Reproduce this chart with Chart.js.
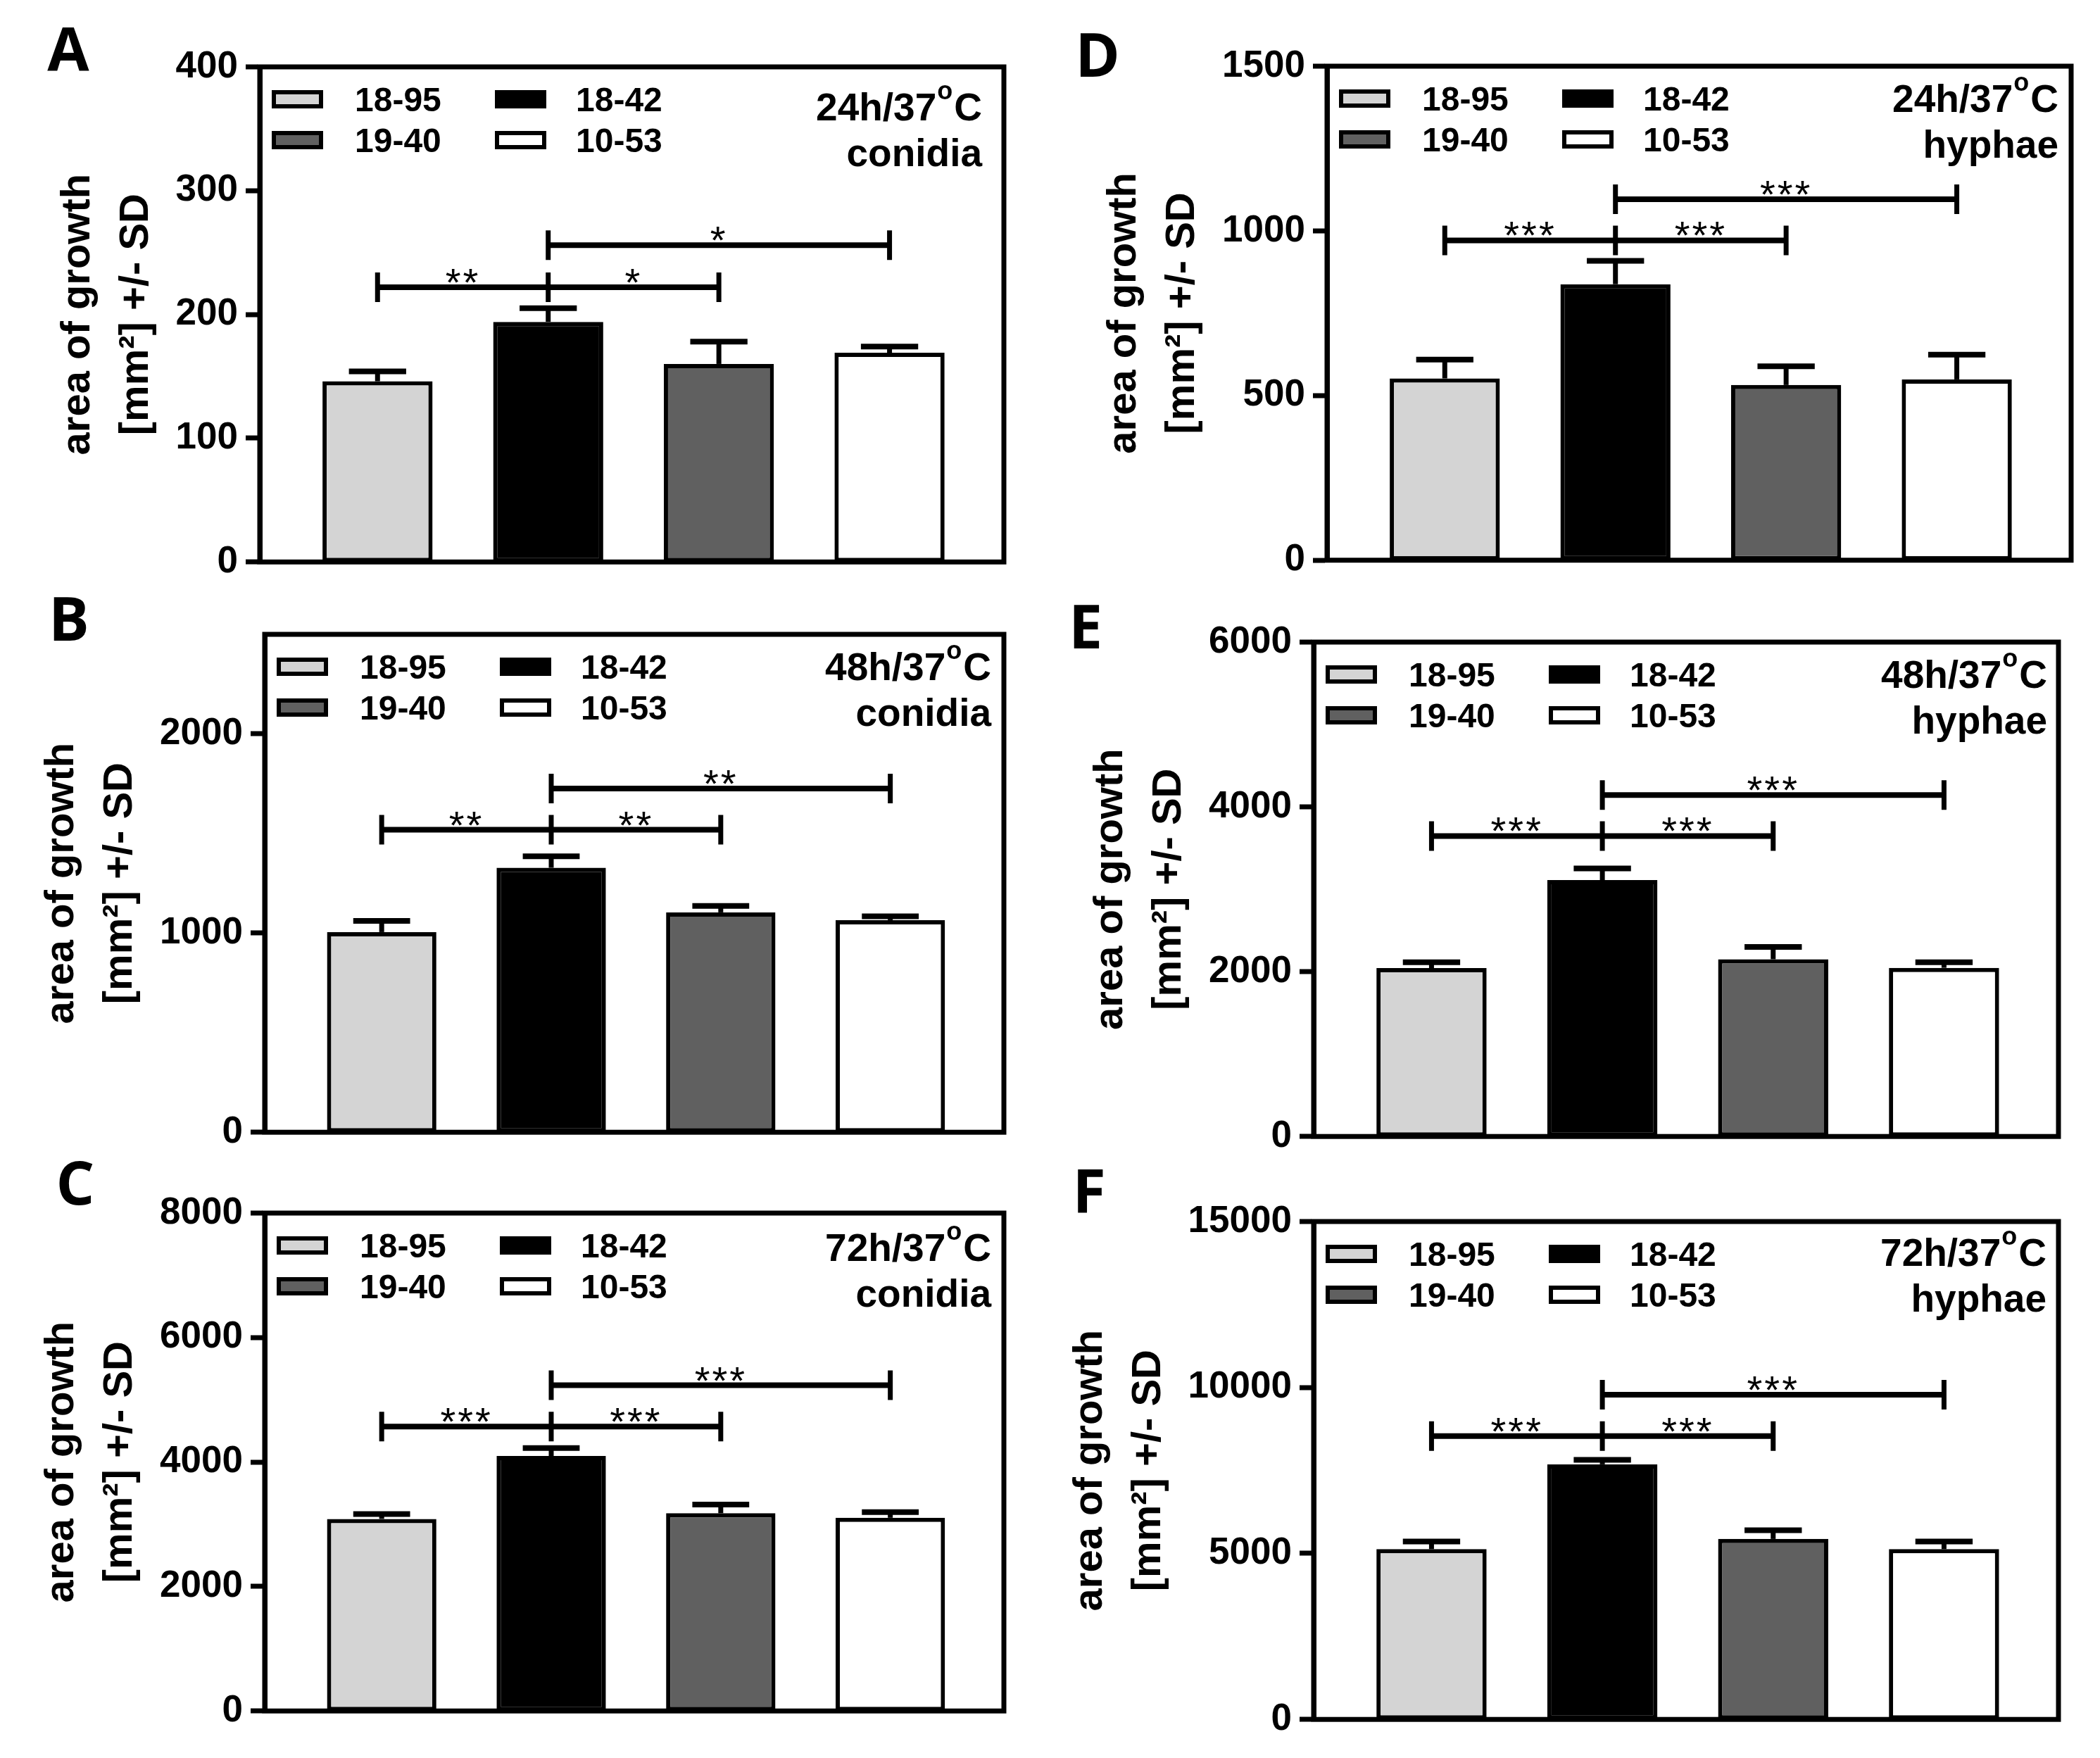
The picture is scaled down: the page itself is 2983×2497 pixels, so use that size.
<!DOCTYPE html>
<html><head><meta charset="utf-8">
<script src="https://cdn.jsdelivr.net/npm/chart.js@4.4.1/dist/chart.umd.min.js"></script>
<style>
html,body{margin:0;padding:0;background:#fff;}
body{width:2983px;height:2497px;position:relative;overflow:hidden;}
.panel{position:absolute;}
</style></head><body>
<script>
// ---------------- DATA ----------------
const categories = ['18-95', '18-42', '19-40', '10-53'];

const meansA = [146, 194, 160, 169];
const sdA    = [8, 11, 18, 5];
const ticksA = [0, 100, 200, 300, 400];
const yMaxA  = 400;
const bracketsA = [222, 256];
const starsA = ['**', '*', '*'];
const noteA  = ['24h/37', 'conidia'];

const meansB = [1005, 1328, 1104, 1065];
const sdB    = [56, 58, 32, 19];
const ticksB = [0, 1000, 2000];
const yMaxB  = 2500;
const bracketsB = [1519, 1726];
const starsB = ['**', '**', '**'];
const noteB  = ['48h/37', 'conidia'];

const meansC = [3086, 4097, 3177, 3104];
const sdC    = [79, 127, 139, 91];
const ticksC = [0, 2000, 4000, 6000, 8000];
const yMaxC  = 8000;
const bracketsC = [4569, 5234];
const starsC = ['***', '***', '***'];
const noteC  = ['72h/37', 'conidia'];

const meansD = [552, 838, 532, 549];
const sdD    = [57, 71, 57, 75];
const ticksD = [0, 500, 1000, 1500];
const yMaxD  = 1500;
const bracketsD = [971, 1096];
const starsD = ['***', '***', '***'];
const noteD  = ['24h/37', 'hyphae'];

const meansE = [2043, 3111, 2151, 2047];
const sdE    = [72, 141, 150, 68];
const ticksE = [0, 2000, 4000, 6000];
const yMaxE  = 6000;
const bracketsE = [3646, 4144];
const starsE = ['***', '***', '***'];
const noteE  = ['48h/37', 'hyphae'];

const meansF = [5130, 7685, 5437, 5130];
const sdF    = [228, 135, 261, 228];
const ticksF = [0, 5000, 10000, 15000];
const yMaxF  = 15000;
const bracketsF = [8536, 9784];
const starsF = ['***', '***', '***'];
const noteF  = ['72h/37', 'hyphae'];

const yTitle = ['area of growth', '[mm\u00B2] +/- SD'];

// ---------------- STYLE / LAYOUT ----------------
const barColors = ['#d4d4d4', '#000000', '#606060', '#ffffff'];
const FONT = "'Liberation Sans', Arial, Helvetica, sans-serif";
const LETTER_FONT = "'Open Sans', 'Liberation Sans', Arial, sans-serif";

const layoutPanels = {
  A: {left: 369, top: 94.5, right: 1426, bottom: 800.5, letter: [-272, 6],  note: [-31, 76]},
  B: {left: 376, top: 901,  right: 1426, bottom: 1611,  letter: [-278, 9],  note: [-18, 65]},
  C: {left: 376, top: 1723, right: 1426, bottom: 2433,  letter: [-269, -12], note: [-18, 68]},
  D: {left: 1885, top: 93.5, right: 2942, bottom: 798,  letter: [-326, 15], note: [-18, 65]},
  E: {left: 1866, top: 912, right: 2924, bottom: 1617,  letter: [-324, 9],  note: [-16, 65]},
  F: {left: 1866, top: 1735, right: 2924, bottom: 2445, letter: [-319, -13], note: [-17, 63]}
};

const panelData = {
  A: {means: meansA, sd: sdA, ticks: ticksA, max: yMaxA, brackets: bracketsA, stars: starsA, note: noteA},
  B: {means: meansB, sd: sdB, ticks: ticksB, max: yMaxB, brackets: bracketsB, stars: starsB, note: noteB},
  C: {means: meansC, sd: sdC, ticks: ticksC, max: yMaxC, brackets: bracketsC, stars: starsC, note: noteC},
  D: {means: meansD, sd: sdD, ticks: ticksD, max: yMaxD, brackets: bracketsD, stars: starsD, note: noteD},
  E: {means: meansE, sd: sdE, ticks: ticksE, max: yMaxE, brackets: bracketsE, stars: starsE, note: noteE},
  F: {means: meansF, sd: sdF, ticks: ticksF, max: yMaxF, brackets: bracketsF, stars: starsF, note: noteF}
};

const TICK_FONT_SIZE = 53;
const TICK_PAD = 11;
const TICK_LEN = 20;

// ---------------- DECORATION PLUGIN ----------------
const deco = {
  id: 'deco',
  afterDraw(chart, args, o) {
    const ctx = chart.ctx, ca = chart.chartArea;
    const xs = chart.scales.x, ys = chart.scales.y;
    const meta = chart.getDatasetMeta(0);
    ctx.save();
    ctx.strokeStyle = '#000';
    ctx.fillStyle = '#000';
    ctx.lineCap = 'butt';

    // error bars (upper SD)
    o.means.forEach((m, i) => {
      const bar = meta.data[i];
      const x = bar.x;
      const y0 = ys.getPixelForValue(m);
      const y1 = ys.getPixelForValue(m + o.sd[i]);
      const cap = bar.width * 0.52;
      ctx.lineWidth = 7;
      ctx.beginPath();
      ctx.moveTo(x, y0); ctx.lineTo(x, y1);
      ctx.stroke();
      ctx.lineWidth = 8;
      ctx.beginPath();
      ctx.moveTo(x - cap / 2, y1); ctx.lineTo(x + cap / 2, y1);
      ctx.stroke();
    });

    // frame
    ctx.lineWidth = 7;
    ctx.strokeRect(ca.left, ca.top, ca.right - ca.left, ca.bottom - ca.top);

    // significance brackets
    const px = i => xs.getPixelForValue(i);
    const half = 21;
    ctx.lineWidth = 8;
    const yl = ys.getPixelForValue(o.brackets[0]);
    const yu = ys.getPixelForValue(o.brackets[1]);
    ctx.beginPath();
    ctx.moveTo(px(0), yl); ctx.lineTo(px(2), yl);
    ctx.moveTo(px(1), yu); ctx.lineTo(px(3), yu);
    ctx.stroke();
    ctx.lineWidth = 7;
    ctx.beginPath();
    [0, 1, 2].forEach(i => { ctx.moveTo(px(i), yl - half); ctx.lineTo(px(i), yl + half); });
    [1, 3].forEach(i => { ctx.moveTo(px(i), yu - half); ctx.lineTo(px(i), yu + half); });
    ctx.stroke();
    ctx.font = `normal 56px ${FONT}`;
    try { ctx.letterSpacing = '3px'; } catch (e) {}
    ctx.textAlign = 'center';
    ctx.textBaseline = 'alphabetic';
    ctx.fillText(o.stars[0], (px(0) + px(1)) / 2, yl + 12);
    ctx.fillText(o.stars[1], (px(1) + px(2)) / 2, yl + 12);
    ctx.fillText(o.stars[2], (px(1) + px(3)) / 2, yu + 12);
    try { ctx.letterSpacing = '0px'; } catch (e) {}

    // legend (2 x 2)
    const legPos = [[0, 0], [1, 0], [0, 1], [1, 1]];
    ctx.font = `bold 48px ${FONT}`;
    ctx.textAlign = 'left';
    categories.forEach((name, ci) => {
      const [col, row] = legPos[ci];
      const bx = ca.left + 17 + col * 317;
      const cy = ca.top + 46 + row * 58;
      ctx.fillStyle = barColors[ci];
      ctx.fillRect(bx, cy - 13, 73, 26);
      ctx.lineWidth = 6;
      ctx.strokeStyle = '#000';
      ctx.strokeRect(bx + 3, cy - 13 + 3, 73 - 6, 26 - 6);
      ctx.fillStyle = '#000';
      ctx.fillText(name, ca.left + 135 + col * 314, cy + 17);
    });

    // condition note (right aligned)
    const nx = ca.right + o.noteOff[0];
    const ny = ca.top + o.noteOff[1];
    ctx.font = `bold 55px ${FONT}`;
    const w1 = ctx.measureText(o.note[0]).width;
    const wC = ctx.measureText('C').width;
    ctx.font = `bold 36px ${FONT}`;
    const wo = ctx.measureText('o').width;
    const g1 = 1, g2 = 2;
    const sx = nx - (w1 + g1 + wo + g2 + wC);
    ctx.textAlign = 'left';
    ctx.font = `bold 55px ${FONT}`;
    ctx.fillText(o.note[0], sx, ny);
    ctx.font = `bold 36px ${FONT}`;
    ctx.fillText('o', sx + w1 + g1, ny - 30);
    ctx.font = `bold 55px ${FONT}`;
    ctx.fillText('C', sx + w1 + g1 + wo + g2, ny);
    ctx.textAlign = 'right';
    ctx.fillText(o.note[1], nx, ny + 65);

    // y axis title (two rotated lines)
    ctx.font = `bold ${TICK_FONT_SIZE}px ${FONT}`;
    let maxW = 0;
    o.ticks.forEach(v => { maxW = Math.max(maxW, ctx.measureText(String(v)).width); });
    const x2 = ca.left - TICK_LEN - TICK_PAD - maxW - 40;
    const x1 = x2 - 83;
    const cyT = (ca.top + ca.bottom) / 2;
    ctx.font = `bold 58px ${FONT}`;
    ctx.textAlign = 'center';
    ctx.textBaseline = 'alphabetic';
    [[x1, yTitle[0]], [x2, yTitle[1]]].forEach(([x, t]) => {
      ctx.save();
      ctx.translate(x, cyT);
      ctx.rotate(-Math.PI / 2);
      ctx.fillText(t, 0, 0);
      ctx.restore();
    });

    // panel letter
    ctx.font = `bold 86px ${LETTER_FONT}`;
    ctx.textAlign = 'center';
    ctx.fillText(o.letter, ca.left + o.letterOff[0], ca.top + o.letterOff[1]);

    ctx.restore();
  }
};

// ---------------- BUILD PANELS ----------------
function makePanel(key) {
  const p = layoutPanels[key];
  const d = panelData[key];
  const ML = 380, MT = 110, MR = 30, MB = 40;
  const div = document.createElement('div');
  div.className = 'panel';
  const w = ML + (p.right - p.left) + MR;
  const h = MT + (p.bottom - p.top) + MB;
  div.style.left = (p.left - ML) + 'px';
  div.style.top = (p.top - MT) + 'px';
  div.style.width = w + 'px';
  div.style.height = h + 'px';
  const c = document.createElement('canvas');
  div.appendChild(c);
  document.body.appendChild(div);

  new Chart(c, {
    type: 'bar',
    data: {
      datasets: [{
        data: d.means.map((v, i) => ({x: i, y: v})),
        backgroundColor: barColors,
        borderColor: '#000',
        borderWidth: 6,
        borderSkipped: false,
        barPercentage: 0.645,
        categoryPercentage: 1
      }]
    },
    options: {
      responsive: true,
      maintainAspectRatio: false,
      animation: false,
      devicePixelRatio: 1,
      layout: {padding: {left: 0, top: MT, right: MR, bottom: MB}},
      scales: {
        x: {
          type: 'linear', display: false, offset: false, min: -0.69, max: 3.67,
          afterBuildTicks(s) { s.ticks = categories.map((_, i) => ({value: i})); }
        },
        y: {
          min: 0, max: d.max,
          afterFit(s) { s.width = ML; },
          afterBuildTicks(s) { s.ticks = d.ticks.map(v => ({value: v})); },
          ticks: {
            callback: v => String(v),
            font: {family: FONT, size: TICK_FONT_SIZE, weight: 'bold'},
            color: '#000', padding: TICK_PAD, autoSkip: false, maxRotation: 0
          },
          grid: {drawOnChartArea: false, drawTicks: true, tickLength: TICK_LEN, tickWidth: 7, tickColor: '#000', lineWidth: 0},
          border: {display: true, color: '#000', width: 7}
        }
      },
      plugins: {
        legend: {display: false},
        tooltip: {enabled: false},
        deco: {
          means: d.means, sd: d.sd, ticks: d.ticks, brackets: d.brackets, stars: d.stars, note: d.note,
          noteOff: p.note, letter: key, letterOff: p.letter
        }
      }
    },
    plugins: [deco]
  });
}
['A', 'B', 'C', 'D', 'E', 'F'].forEach(makePanel);
</script>
</body></html>
